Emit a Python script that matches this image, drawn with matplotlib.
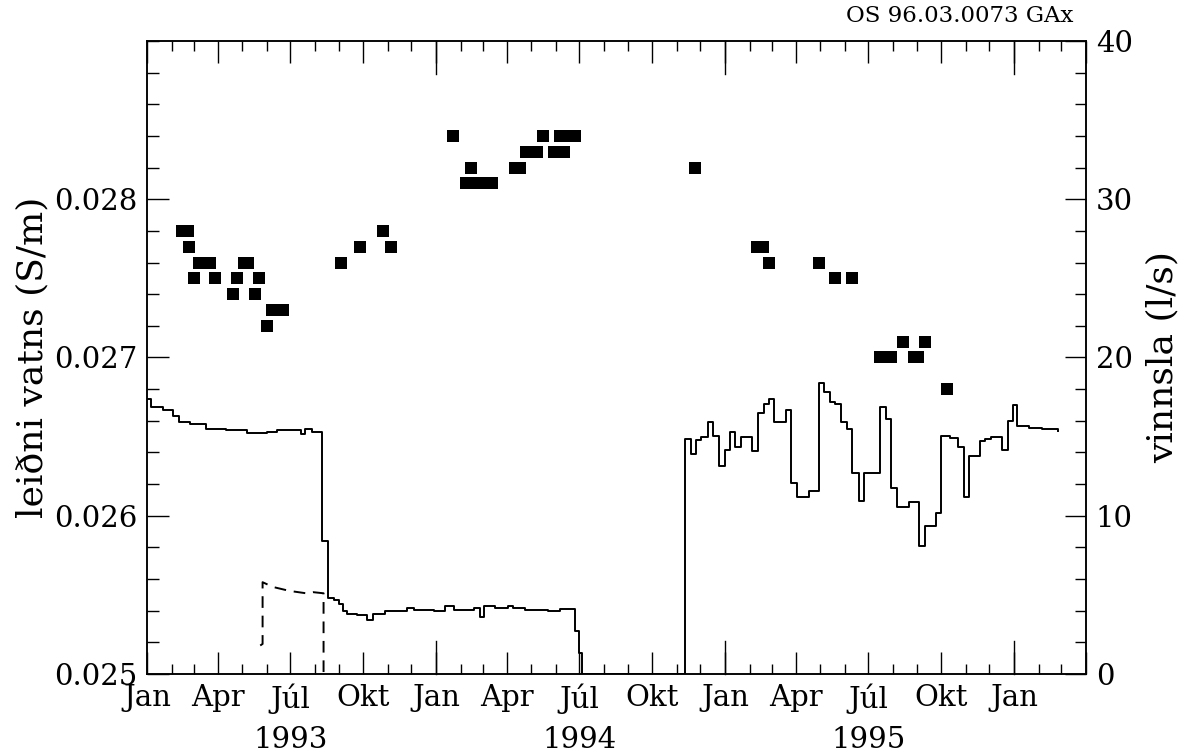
import datetime as dt
import numpy as np
import matplotlib
matplotlib.use("Agg")
import matplotlib.pyplot as plt
import matplotlib.dates as mdates
from matplotlib.ticker import FixedLocator, MultipleLocator, FuncFormatter
from matplotlib.transforms import blended_transform_factory

# ---------------- data ----------------
# conductivity (S/m), black squares, left axis
cond_dates = [
    "1993-02-14", "1993-02-22", "1993-02-23", "1993-03-02", "1993-03-08", "1993-03-22",
    "1993-03-28", "1993-04-19", "1993-04-25", "1993-05-03", "1993-05-09", "1993-05-18",
    "1993-05-23", "1993-06-02", "1993-06-08", "1993-06-22", "1993-09-03", "1993-09-27",
    "1993-10-26", "1993-11-05",
    "1994-01-22", "1994-02-08", "1994-02-14", "1994-02-19", "1994-03-01", "1994-03-13",
    "1994-04-11", "1994-04-17", "1994-04-25", "1994-05-09", "1994-05-16", "1994-05-30",
    "1994-06-07", "1994-06-12", "1994-06-16", "1994-06-25",
    "1994-11-24",
    "1995-02-10", "1995-02-18", "1995-02-25", "1995-04-30", "1995-05-20", "1995-06-10",
    "1995-07-16", "1995-07-30", "1995-08-14", "1995-08-28", "1995-09-02", "1995-09-10",
    "1995-10-09",
]
cond_values = [
    0.0278, 0.0278, 0.0277, 0.0275, 0.0276, 0.0276,
    0.0275, 0.0274, 0.0275, 0.0276, 0.0276, 0.0274,
    0.0275, 0.0272, 0.0273, 0.0273, 0.0276, 0.0277,
    0.0278, 0.0277,
    0.0284, 0.0281, 0.0282, 0.0281, 0.0281, 0.0281,
    0.0282, 0.0282, 0.0283, 0.0283, 0.0284, 0.0283,
    0.0284, 0.0283, 0.0284, 0.0284,
    0.0282,
    0.0277, 0.0277, 0.0276, 0.0276, 0.0275, 0.0275,
    0.0270, 0.0270, 0.0271, 0.0270, 0.0270, 0.0271,
    0.0268,
]

# pumping (l/s), solid step line, right axis
flow_dates = [
    "1993-01-01", "1993-01-06", "1993-01-21", "1993-02-03", "1993-02-11", "1993-02-24",
    "1993-03-17", "1993-04-11", "1993-05-07", "1993-06-01", "1993-06-14", "1993-07-14",
    "1993-07-20", "1993-07-28", "1993-08-10", "1993-08-17", "1993-08-25", "1993-08-31",
    "1993-09-06", "1993-09-11", "1993-09-23", "1993-10-06", "1993-10-14", "1993-10-29",
    "1993-11-26", "1993-12-04", "1993-12-29", "1994-01-12", "1994-01-24", "1994-02-18",
    "1994-02-25", "1994-03-03", "1994-03-16", "1994-04-02", "1994-04-08", "1994-04-23",
    "1994-05-22", "1994-06-06", "1994-06-25", "1994-07-01", "1994-07-04",
    "1994-11-11", "1994-11-19", "1994-11-26", "1994-12-02", "1994-12-10", "1994-12-17",
    "1994-12-24", "1995-01-01", "1995-01-07", "1995-01-14", "1995-01-21", "1995-02-04",
    "1995-02-12", "1995-02-19", "1995-02-26", "1995-03-04", "1995-03-19", "1995-03-26",
    "1995-04-02", "1995-04-17", "1995-04-30", "1995-05-06", "1995-05-14", "1995-05-20",
    "1995-05-28", "1995-06-04", "1995-06-11", "1995-06-19", "1995-06-25", "1995-07-16",
    "1995-07-23", "1995-07-30", "1995-08-06", "1995-08-21", "1995-09-03", "1995-09-10",
    "1995-09-25", "1995-10-01", "1995-10-12", "1995-10-22", "1995-10-30", "1995-11-05",
    "1995-11-19", "1995-11-26", "1995-12-03", "1995-12-17", "1995-12-24", "1995-12-31",
    "1996-01-05", "1996-01-20", "1996-02-05", "1996-02-25",
]
flow_values = [
    17.4, 16.9, 16.7, 16.3, 15.9, 15.8,
    15.5, 15.4, 15.2, 15.3, 15.4, 15.15,
    15.45, 15.3, 8.4, 4.8, 4.7, 4.4,
    4.0, 3.8, 3.7, 3.4, 3.8, 4.0,
    4.15, 4.05, 3.95, 4.3, 4.05, 4.2,
    3.6, 4.3, 4.15, 4.3, 4.15, 4.05,
    3.95, 4.1, 2.7, 1.3, 0.0,
    14.85, 13.9, 14.8, 15.0, 15.9, 15.05,
    13.15, 14.15, 15.3, 14.35, 14.95, 14.1,
    16.5, 17.05, 17.4, 15.9, 16.7, 12.1,
    11.2, 11.55, 18.4, 17.85, 17.2, 17.05,
    15.95, 15.5, 12.7, 10.95, 12.7, 16.85,
    16.1, 11.75, 10.55, 10.85, 8.1, 9.35,
    10.15, 15.05, 14.9, 14.35, 11.2, 13.75,
    14.7, 14.85, 15.0, 14.15, 16.0, 17.0,
    15.7, 15.55, 15.45, 15.35,
]

# second pumping series, dashed line, right axis
flow2_dates = ["1993-05-24", "1993-05-27", "1993-05-27", "1993-06-09", "1993-06-30",
               "1993-07-21", "1993-07-30", "1993-08-12", "1993-08-12"]
flow2_values = [1.8, 1.9, 5.8, 5.5, 5.25, 5.1, 5.17, 5.1, 0.0]

month_names = {1: "Jan", 4: "Apr", 7: "Júl", 10: "Okt"}
year_labels = [1993, 1994, 1995]
cond_ticks = [0.025, 0.026, 0.027, 0.028]
flow_ticks = [0, 10, 20, 30, 40]
x_start, x_end = "1993-01-01", "1996-04-01"
stamp = "OS 96.03.0073 GAx"

# ---------------- figure ----------------
plt.rcParams["font.family"] = ["DejaVu Serif"]
plt.rcParams["axes.linewidth"] = 1.1

def d(s):
    return dt.datetime.strptime(s, "%Y-%m-%d")

fig = plt.figure(figsize=(11.97, 7.55), dpi=100)
ax = fig.add_axes([0.1228, 0.1073, 0.7845, 0.8384])
ax2 = ax.twinx()

ax.plot([d(s) for s in cond_dates], cond_values, linestyle="none", marker="s",
        markersize=8.5, color="black", markeredgewidth=0)
ax2.step([d(s) for s in flow_dates], flow_values, where="post", color="black", lw=1.4)
ax2.plot([d(s) for s in flow2_dates], flow2_values, color="black", lw=1.4,
         linestyle=(0, (6, 4)))

ax.set_xlim(d(x_start), d(x_end))
ax.set_ylim(0.025, 0.029)
ax2.set_ylim(0, 40)

# x ticks
ax.xaxis.set_major_locator(mdates.MonthLocator(bymonth=[1, 4, 7, 10]))
ax.xaxis.set_minor_locator(mdates.MonthLocator())
x_end_num = mdates.date2num(d(x_end))

def xfmt(x, pos):
    if x >= x_end_num - 1:
        return ""
    dd = mdates.num2date(x)
    return month_names.get(dd.month, "")

ax.xaxis.set_major_formatter(FuncFormatter(xfmt))
ax.tick_params(axis="x", which="major", direction="in", length=16, width=1.0,
               top=True, labelsize=21, pad=7)
ax.tick_params(axis="x", which="minor", direction="in", length=7, width=1.0, top=True)

# year ticks (longer) and year labels
trans = blended_transform_factory(ax.transData, ax.transAxes)
for yr in [1994, 1995, 1996]:
    xv = mdates.date2num(dt.datetime(yr, 1, 1))
    ax.plot([xv, xv], [0, 0.052], transform=trans, color="black", lw=1.0, clip_on=False)
    ax.plot([xv, xv], [1 - 0.052, 1], transform=trans, color="black", lw=1.0, clip_on=False)
for yr in year_labels:
    ax.text(dt.datetime(yr, 7, 1), -0.117, str(yr), transform=trans, ha="center",
            va="baseline", fontsize=21)

# left y ticks
ax.yaxis.set_major_locator(FixedLocator(cond_ticks))
ax.yaxis.set_minor_locator(MultipleLocator(0.0002))
ax.yaxis.set_major_formatter(FuncFormatter(lambda v, p: f"{v:.3f}"))
ax.tick_params(axis="y", which="major", direction="in", length=16, width=1.0,
               labelsize=21, pad=7, right=False)
ax.tick_params(axis="y", which="minor", direction="in", length=8.5, width=1.0, right=False)

# right y ticks
ax2.yaxis.set_major_locator(FixedLocator(flow_ticks))
ax2.yaxis.set_minor_locator(MultipleLocator(2))
ax2.tick_params(axis="y", which="major", direction="in", length=15, width=1.0,
                labelsize=21, pad=7)
ax2.tick_params(axis="y", which="minor", direction="in", length=8, width=1.0)

ax.set_ylabel("leiðni vatns (S/m)", fontsize=26, labelpad=3)
ax2.set_ylabel("vinnsla (l/s)", fontsize=26, labelpad=9)

fig.text(1073 / 1197, 1 - 22 / 755, stamp, ha="right", va="baseline", fontsize=16.5)

fig.savefig("out.png", dpi=100)
